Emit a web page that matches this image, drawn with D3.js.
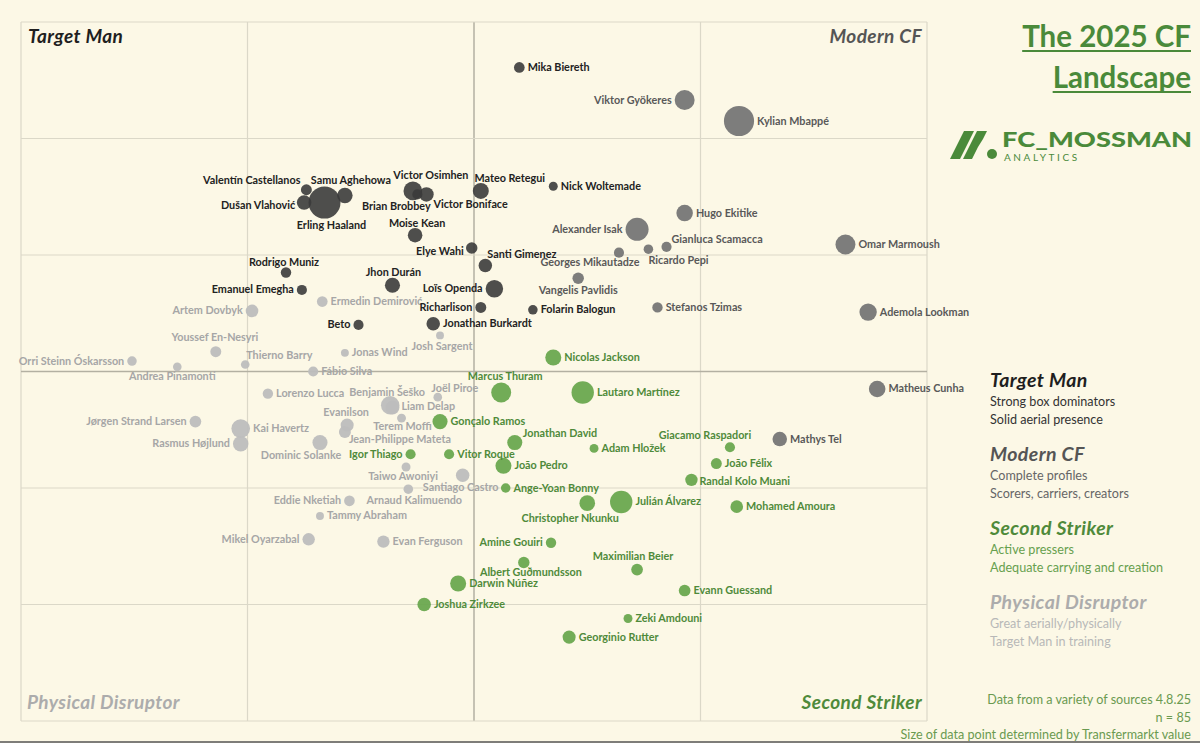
<!DOCTYPE html>
<html lang="en">
<head>
<meta charset="UTF-8">
<title>The 2025 CF Landscape</title>
<style>
  html, body { margin: 0; padding: 0; background: #fcf8e6; }
  svg { display: block; font-family: Lato, "Open Sans", sans-serif; }
  .lbl { font-size: 10.8px; font-weight: 700; }
</style>
</head>
<body>
<svg id="chart" width="1200" height="743"></svg>
<script src="https://d3js.org/d3.v7.min.js"></script>
<script>
// [name, x score, y score, Transfermarkt value (EUR m)]
const targetMen = [
  ["Mika Biereth", 0.20, 2.61, 20],
  ["Valentín Castellanos", -0.74, 1.56, 21],
  ["Samu Aghehowa", -0.57, 1.51, 42],
  ["Dušan Vlahović", -0.75, 1.45, 37],
  ["Erling Haaland", -0.66, 1.45, 180],
  ["Victor Osimhen", -0.27, 1.55, 61],
  ["Brian Brobbey", -0.25, 1.52, 18],
  ["Victor Boniface", -0.21, 1.52, 37],
  ["Mateo Retegui", 0.03, 1.55, 45],
  ["Nick Woltemade", 0.35, 1.59, 14],
  ["Moise Kean", -0.26, 1.17, 37],
  ["Elye Wahi", -0.01, 1.06, 23],
  ["Santi Gimenez", 0.05, 0.91, 32],
  ["Rodrigo Muniz", -0.83, 0.85, 19],
  ["Jhon Durán", -0.36, 0.74, 40],
  ["Emanuel Emegha", -0.76, 0.70, 18],
  ["Loïs Openda", 0.09, 0.71, 54],
  ["Richarlison", 0.03, 0.55, 21],
  ["Beto", -0.51, 0.40, 18],
  ["Jonathan Burkardt", -0.18, 0.41, 32],
  ["Folarin Balogun", 0.26, 0.53, 16]
];

const modernCF = [
  ["Viktor Gyökeres", 0.93, 2.33, 70],
  ["Kylian Mbappé", 1.17, 2.15, 160],
  ["Hugo Ekitike", 0.93, 1.36, 48],
  ["Alexander Isak", 0.72, 1.22, 93],
  ["Gianluca Scamacca", 0.85, 1.07, 18],
  ["Ricardo Pepi", 0.77, 1.05, 16],
  ["Georges Mikautadze", 0.64, 1.02, 18],
  ["Omar Marmoush", 1.64, 1.09, 70],
  ["Vangelis Pavlidis", 0.46, 0.80, 23],
  ["Stefanos Tzimas", 0.81, 0.55, 19],
  ["Ademola Lookman", 1.74, 0.51, 53],
  ["Matheus Cunha", 1.78, -0.15, 48],
  ["Mathys Tel", 1.35, -0.58, 37]
];

const secondStrikers = [
  ["Nicolas Jackson", 0.35, 0.12, 45],
  ["Marcus Thuram", 0.12, -0.18, 70],
  ["Lautaro Martínez", 0.48, -0.18, 88],
  ["Gonçalo Ramos", -0.15, -0.43, 40],
  ["Jonathan David", 0.18, -0.61, 40],
  ["Adam Hložek", 0.53, -0.66, 14],
  ["Giacamo Raspadori", 1.13, -0.65, 18],
  ["Igor Thiago", -0.28, -0.71, 18],
  ["Vitor Roque", -0.11, -0.71, 18],
  ["João Pedro", 0.13, -0.81, 45],
  ["João Félix", 1.07, -0.79, 21],
  ["Randal Kolo Muani", 0.96, -0.93, 27],
  ["Ange-Yoan Bonny", 0.14, -1.00, 16],
  ["Christopher Nkunku", 0.50, -1.13, 43],
  ["Julián Álvarez", 0.65, -1.12, 88],
  ["Mohamed Amoura", 1.16, -1.16, 28],
  ["Amine Gouiri", 0.34, -1.47, 19],
  ["Albert Guðmundsson", 0.22, -1.64, 23],
  ["Maximilian Beier", 0.72, -1.70, 24],
  ["Darwin Núñez", -0.07, -1.82, 45],
  ["Evann Guessand", 0.93, -1.88, 24],
  ["Joshua Zirkzee", -0.22, -2.00, 32],
  ["Zeki Amdouni", 0.68, -2.12, 14],
  ["Georginio Rutter", 0.42, -2.28, 30]
];

const physicalDisruptors = [
  ["Ermedin Demirović", -0.67, 0.60, 20],
  ["Artem Dovbyk", -0.98, 0.52, 28],
  ["Youssef En-Nesyri", -1.14, 0.17, 21],
  ["Orri Steinn Óskarsson", -1.51, 0.09, 16],
  ["Andrea Pinamonti", -1.31, 0.04, 13],
  ["Thierno Barry", -1.01, 0.06, 13],
  ["Jonas Wind", -0.57, 0.16, 11],
  ["Josh Sargent", -0.15, 0.31, 11],
  ["Fábio Silva", -0.71, 0.00, 18],
  ["Lorenzo Lucca", -0.91, -0.19, 19],
  ["Benjamin Šeško", -0.37, -0.29, 60],
  ["Joël Piroe", -0.16, -0.22, 13],
  ["Liam Delap", -0.36, -0.31, 34],
  ["Evanilson", -0.56, -0.46, 30],
  ["Jean-Philippe Mateta", -0.57, -0.52, 25],
  ["Terem Moffi", -0.32, -0.40, 14],
  ["Kai Havertz", -1.03, -0.49, 61],
  ["Rasmus Højlund", -1.03, -0.62, 42],
  ["Jørgen Strand Larsen", -1.23, -0.43, 24],
  ["Dominic Solanke", -0.68, -0.61, 40],
  ["Taiwo Awoniyi", -0.30, -0.82, 14],
  ["Santiago Castro", -0.05, -0.89, 32],
  ["Arnaud Kalimuendo", -0.29, -1.01, 16],
  ["Eddie Nketiah", -0.55, -1.11, 20],
  ["Tammy Abraham", -0.68, -1.24, 11],
  ["Mikel Oyarzabal", -0.73, -1.44, 27],
  ["Evan Ferguson", -0.40, -1.46, 27]
];

const roleNames = ["Target Man", "Modern CF", "Second Striker", "Physical Disruptor"];
const roleNotes = [
  ["Strong box dominators", "Solid aerial presence"],
  ["Complete profiles", "Scorers, carriers, creators"],
  ["Active pressers", "Adequate carrying and creation"],
  ["Great aerially/physically", "Target Man in training"]
];
const footNotes = [
  "Data from a variety of sources 4.8.25",
  "n = 85",
  "Size of data point determined by Transfermarkt value"
];

// role styles: dot fill, label colour, heading colour, note colour
const roleStyle = [
  { dot: "#3b3b3b", op: 0.9, text: "#222", head: "#1f1f1f", note: "#333" },
  { dot: "#767676", op: 0.95, text: "#595959", head: "#555", note: "#666" },
  { dot: "#6aa84f", op: 0.95, text: "#4f8a3a", head: "#4f8a3a", note: "#67a04e" },
  { dot: "#bdbdbd", op: 0.95, text: "#a6a6a6", head: "#acacac", note: "#b8b8b8" }
];

// label placement: [anchor, dx, dy] relative to dot centre; others go right of the dot
const labelNudge = {
  "Valentín Castellanos": ["end", -6, -5.5],
  "Samu Aghehowa": ["middle", 6, -11.5],
  "Dušan Vlahović": ["end", -9, 6.5],
  "Erling Haaland": ["middle", 7, 26.5],
  "Victor Osimhen": ["middle", 18, -11.5],
  "Brian Brobbey": ["middle", -21, 15.5],
  "Victor Boniface": ["start", 7, 13.5],
  "Mateo Retegui": ["middle", 29, -8.5],
  "Moise Kean": ["middle", 2, -8.5],
  "Elye Wahi": ["end", -8, 6.5],
  "Santi Gimenez": ["start", 2, -7.5],
  "Rodrigo Muniz": ["middle", -2, -6.5],
  "Jhon Durán": ["middle", 1, -9.5],
  "Emanuel Emegha": "l",
  "Loïs Openda": "l",
  "Richarlison": "l",
  "Beto": "l",
  "Viktor Gyökeres": "l",
  "Alexander Isak": "l",
  "Gianluca Scamacca": ["start", 5, -3.5],
  "Ricardo Pepi": ["start", 0, 14.5],
  "Georges Mikautadze": ["middle", -29, 13.5],
  "Vangelis Pavlidis": ["middle", 0, 15.5],
  "Marcus Thuram": ["middle", 4, -12.5],
  "Jonathan David": ["start", 8, -5.5],
  "Giacamo Raspadori": ["middle", -25, -8.5],
  "Igor Thiago": "l",
  "Randal Kolo Muani": ["start", 8, 5.5],
  "Christopher Nkunku": ["middle", -17, 18.5],
  "Amine Gouiri": "l",
  "Albert Guðmundsson": ["middle", 7, 13.5],
  "Maximilian Beier": ["middle", -4, -9.5],
  "Artem Dovbyk": "l",
  "Youssef En-Nesyri": ["middle", -1, -10.5],
  "Orri Steinn Óskarsson": "l",
  "Andrea Pinamonti": ["middle", -5, 13.5],
  "Thierno Barry": ["start", 1, -5.5],
  "Josh Sargent": ["middle", 2, 14.5],
  "Benjamin Šeško": ["middle", -3, -9.5],
  "Joël Piroe": ["middle", 17, -5.5],
  "Liam Delap": ["start", 9, 2.5],
  "Evanilson": ["middle", -1, -9.5],
  "Jean-Philippe Mateta": ["start", 4, 10.5],
  "Terem Moffi": ["middle", 1, 11.5],
  "Rasmus Højlund": "l",
  "Jørgen Strand Larsen": "l",
  "Dominic Solanke": ["middle", -19, 16.5],
  "Taiwo Awoniyi": ["middle", -3, 12.5],
  "Santiago Castro": ["middle", -2, 15.5],
  "Arnaud Kalimuendo": ["middle", 6, 14.5],
  "Eddie Nketiah": "l",
  "Mikel Oyarzabal": "l"
};

const svg = d3.select("#chart");
const W = 1200, H = 743;

svg.append("rect").attr("width", W).attr("height", H).attr("fill", "#fcf8e6");

const x = d3.scaleLinear().domain([-2, 2]).range([21, 927]);
const y = d3.scaleLinear().domain([-3, 3]).range([721, 22]);
const r = d3.scaleSqrt().domain([0, 180]).range([0, 16]);

// grid
const grid = svg.append("g");
grid.selectAll("line.vx").data(d3.range(-2, 3)).enter().append("line")
  .attr("x1", d => x(d)).attr("x2", d => x(d))
  .attr("y1", y(3)).attr("y2", y(-3))
  .attr("stroke", d => d === 0 ? "#b3b0a2" : "#dbd8c8")
  .attr("stroke-width", d => d === 0 ? 1.5 : 1.2);
grid.selectAll("line.hy").data(d3.range(-3, 4)).enter().append("line")
  .attr("y1", d => y(d)).attr("y2", d => y(d))
  .attr("x1", x(-2)).attr("x2", x(2))
  .attr("stroke", d => d === 0 ? "#b3b0a2" : "#dbd8c8")
  .attr("stroke-width", d => d === 0 ? 1.5 : 1.2);

// quadrant names
const quad = [
  [roleNames[0], x(-2) + 7, y(3) + 21, "start", 0],
  [roleNames[1], x(2) - 5, y(3) + 21, "end", 1],
  [roleNames[3], x(-2) + 6, y(-3) - 12, "start", 3],
  [roleNames[2], x(2) - 5, y(-3) - 12, "end", 2]
];
svg.selectAll("text.quad").data(quad).enter().append("text")
  .attr("x", d => d[1]).attr("y", d => d[2])
  .attr("text-anchor", d => d[3])
  .attr("font-size", 19).attr("font-weight", 700).attr("font-style", "italic")
  .attr("letter-spacing", 0.4)
  .attr("fill", d => roleStyle[d[4]].head)
  .text(d => d[0]);

// points
const groups = [targetMen, modernCF, secondStrikers, physicalDisruptors];
const pts = [];
groups.forEach((g, gi) => g.forEach(p => pts.push({ name: p[0], x: p[1], y: p[2], v: p[3], role: gi })));

const drawOrder = [3, 2, 1, 0];
const sorted = [];
drawOrder.forEach(ri => pts.filter(p => p.role === ri).sort((a, b) => b.v - a.v).forEach(p => sorted.push(p)));

svg.append("g").selectAll("circle").data(sorted).enter().append("circle")
  .attr("cx", d => x(d.x)).attr("cy", d => y(d.y))
  .attr("r", d => r(d.v))
  .attr("fill", d => roleStyle[d.role].dot)
  .attr("fill-opacity", d => roleStyle[d.role].op);

svg.append("g").selectAll("text").data(sorted).enter().append("text")
  .attr("class", "lbl")
  .each(function(d) {
    const rad = r(d.v);
    let n = labelNudge[d.name] || "r";
    let anchor, dx, dy;
    if (n === "r") { anchor = "start"; dx = rad + 3; dy = 3.5; }
    else if (n === "l") { anchor = "end"; dx = -(rad + 3); dy = 3.5; }
    else { anchor = n[0]; dx = n[1]; dy = n[2]; }
    d3.select(this)
      .attr("x", x(d.x) + dx).attr("y", y(d.y) + dy)
      .attr("text-anchor", anchor);
  })
  .attr("fill", d => roleStyle[d.role].text)
  .text(d => d.name);

// title
const green = "#4a8a3a";
const title = svg.append("g");
["The 2025 CF", "Landscape"].forEach((t, i) => {
  const tt = title.append("text")
    .attr("x", 1191).attr("y", 47 + i * 41)
    .attr("text-anchor", "end")
    .attr("font-size", 29.5).attr("font-weight", 700)
    .attr("fill", green)
    .text(t);
  const bb = tt.node().getBBox();
  title.append("line")
    .attr("x1", bb.x).attr("x2", bb.x + bb.width)
    .attr("y1", 51 + i * 41).attr("y2", 51 + i * 41)
    .attr("stroke", green).attr("stroke-width", 2);
});

// logo
const logo = svg.append("g").attr("fill", green);
logo.append("path").attr("d", "M950,159 L964,131 L974,131 L960,159 Z");
logo.append("path").attr("d", "M963,159 L977,131 L987,131 L983,139 L978,147 L972,159 Z");
logo.append("circle").attr("cx", 992).attr("cy", 154).attr("r", 5);
logo.append("text")
  .attr("x", 1002).attr("y", 147)
  .attr("font-size", 21).attr("font-weight", 900)
  .attr("textLength", 190).attr("lengthAdjust", "spacingAndGlyphs")
  .text("FC_MOSSMAN");
logo.append("text")
  .attr("x", 1004).attr("y", 161)
  .attr("font-size", 10).attr("font-weight", 400)
  .attr("letter-spacing", 2.6)
  .text("ANALYTICS");

// legend
const leg = svg.append("g");
roleNames.forEach((name, i) => {
  const y0 = 387 + i * 74;
  leg.append("text")
    .attr("x", 990).attr("y", y0)
    .attr("font-size", 19.5).attr("font-weight", 700).attr("font-style", "italic")
    .attr("letter-spacing", 0.4)
    .attr("fill", roleStyle[i].head)
    .text(name);
  roleNotes[i].forEach((n, j) => {
    leg.append("text")
      .attr("x", 990).attr("y", y0 + 19 + j * 17.5)
      .attr("font-size", 12.6)
      .attr("fill", roleStyle[i].note)
      .text(n);
  });
});

// footnotes
svg.append("g").selectAll("text").data(footNotes).enter().append("text")
  .attr("x", 1191).attr("y", (d, i) => 704 + i * 17.5)
  .attr("text-anchor", "end")
  .attr("font-size", 12.6)
  .attr("fill", "#6a9a50")
  .text(d => d);

svg.append("line")
  .attr("x1", 0).attr("x2", W).attr("y1", 742).attr("y2", 742)
  .attr("stroke", "#555").attr("stroke-width", 1.5);
</script>
</body>
</html>
